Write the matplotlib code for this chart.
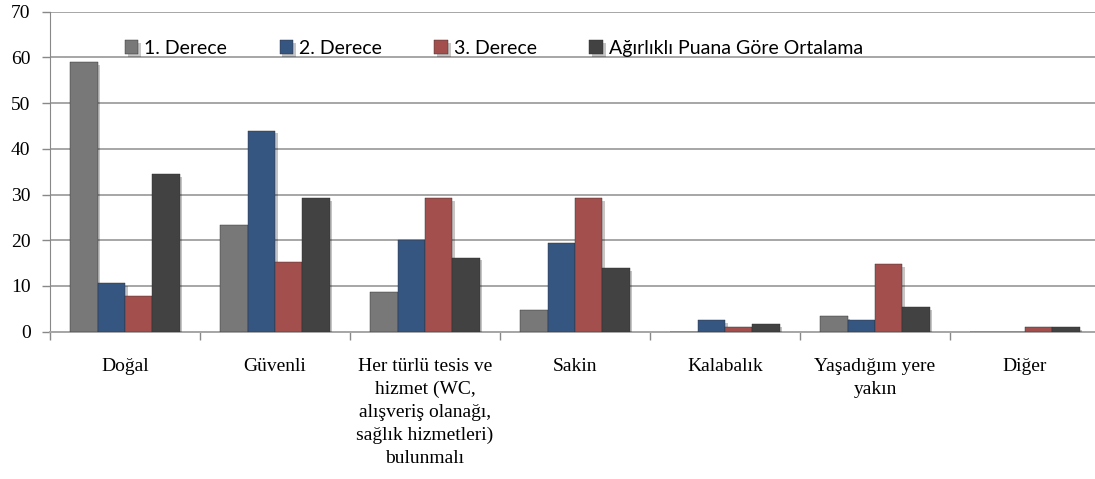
import matplotlib
matplotlib.use("Agg")
import matplotlib.pyplot as plt
import matplotlib.patheffects as pe
import numpy as np

plt.rcParams['font.family'] = ['Liberation Serif', 'DejaVu Serif']

# kategoriler
kategoriler = ['Doğal', 'Güvenli',
               'Her türlü tesis ve\nhizmet (WC,\nalışveriş olanağı,\nsağlık hizmetleri)\nbulunmalı',
               'Sakin', 'Kalabalık', 'Yaşadığım yere\nyakın', 'Diğer']

# seriler
derece1 = [58.9, 23.4, 8.7, 4.7, 0.0, 3.4, 0.0]
derece2 = [10.7, 44.0, 20.1, 19.4, 2.6, 2.6, 0.0]
derece3 = [7.9, 15.3, 29.3, 29.3, 1.1, 14.8, 1.1]
ortalama = [34.5, 29.2, 16.2, 13.9, 1.6, 5.3, 1.0]

seri_adlari = ['1. Derece', '2. Derece', '3. Derece', 'Ağırlıklı Puana Göre Ortalama']
renkler = ['#787878', '#365682', '#a34f4d', '#424242']

fig = plt.figure(figsize=(10.95, 4.79), dpi=100)
ax = fig.add_axes([50 / 1095, 147.3 / 479, 1050 / 1095, 320 / 479])

x = np.arange(len(kategoriler))
w = 0.182
golge = [pe.SimplePatchShadow(offset=(2, -2), alpha=0.25), pe.Normal()]
for i, (vals, ad, renk) in enumerate(zip([derece1, derece2, derece3, ortalama], seri_adlari, renkler)):
    bars = ax.bar(x + (i - 1.5) * w, vals, w, color=renk, label=ad, zorder=3,
                  edgecolor='#2a2a2a', linewidth=0.3)
    for b in bars:
        b.set_path_effects(golge)

ax.set_xlim(-0.5, 6.5)
ax.set_ylim(0, 70)
ax.set_yticks(range(0, 71, 10))
ax.yaxis.grid(True, color='#a6a6a6', linewidth=1.4, zorder=0)
ax.set_axisbelow(True)

# grup sınırlarında tikler, etiketler grup ortasında
ax.set_xticks(np.arange(-0.5, 7, 1))
ax.set_xticklabels([])
ax.set_xticks(x, minor=True)
ax.set_xticklabels(kategoriler, minor=True, fontsize=14, linespacing=1.45, va='top')
ax.tick_params(axis='x', which='minor', length=0, pad=19)
ax.tick_params(axis='x', which='major', length=6, color='#888888', width=1)
ax.tick_params(axis='y', length=6, color='#888888', width=1, pad=8, labelsize=14)

for s in ['top', 'right']:
    ax.spines[s].set_visible(False)
ax.spines['left'].set_color('#888888')
ax.spines['bottom'].set_color('#a6a6a6')
ax.spines['bottom'].set_linewidth(1.4)

ax.legend(loc='center left', bbox_to_anchor=(0.0545, 0.885), ncol=4, frameon=False,
          prop={'family': 'Lato', 'size': 14}, handlelength=0.7, handleheight=0.7,
          handletextpad=0.3, columnspacing=2.7)

fig.savefig('out.png', dpi=100)
